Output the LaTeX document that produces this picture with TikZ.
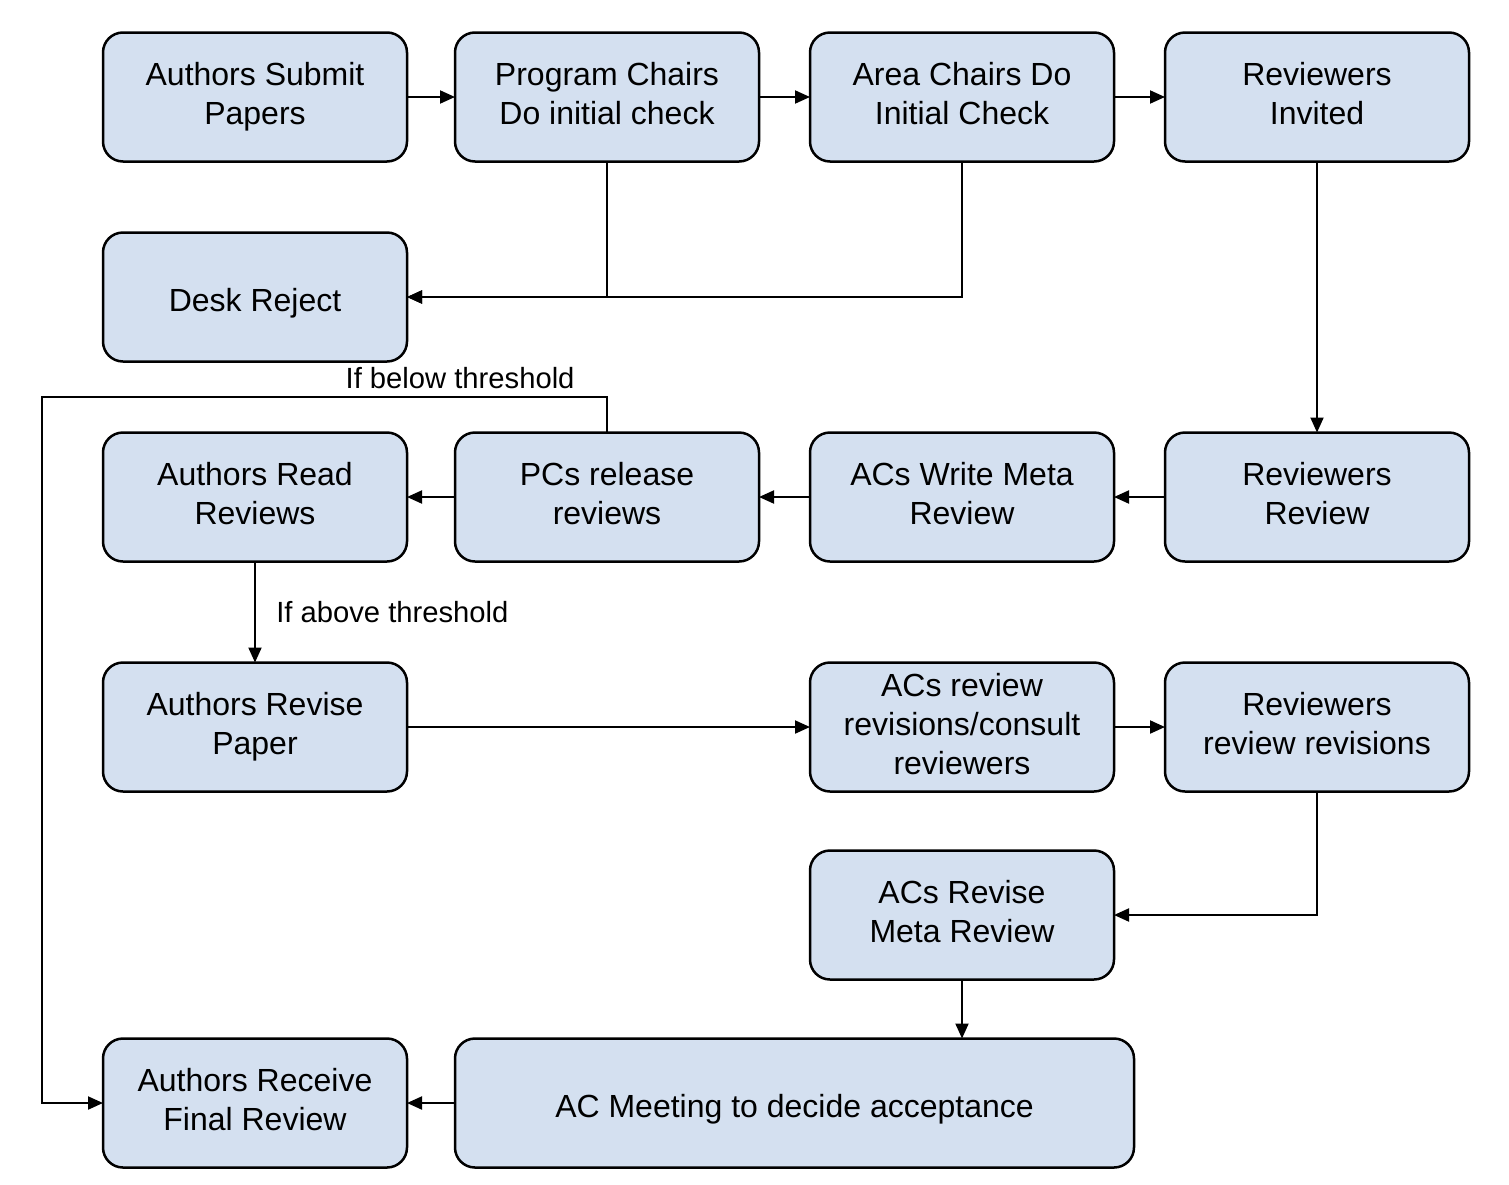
\documentclass[tikz,border=0pt]{standalone}
\usepackage{fontspec}
\setmainfont{Liberation Sans}
\usepackage{xcolor}
\usepackage{tikz}
\usetikzlibrary{positioning}
\usetikzlibrary{arrows.meta}
\definecolor{boxblue}{RGB}{212,224,240}

\begin{document}
\begin{tikzpicture}[%
	base/.style={draw=black, line width=2.5pt, fill=boxblue, align=center, outer sep=0pt, minimum
		width=304pt, minimum height=129pt, inner sep=5pt, font=\fontsize{32}{39}\selectfont,
		execute at begin node={\rule{0pt}{35pt}}, execute at end node={\rule[-6.7pt]{0pt}{6.7pt}}},
	rect/.style={base, rounded corners=20pt},
	wide/.style={rect, minimum width=679pt},
	cond/.style={font=\fontsize{29.2}{35}\selectfont},
	link/.style={line width=2pt},
	arrow/.style={link, arrows={-{Triangle[length=15pt, width=13pt]}}}%
	]
	\path[use as bounding box] (0,0) rectangle (1509pt,-1184pt);
	%
	% Nodes
	%
	\node[rect] (SUBMIT) at (255pt, -97pt) {Authors Submit\\ Papers};
	\node[rect, right=48pt of SUBMIT] (PCCHECK) {Program Chairs\\ Do initial check};
	\node[rect, right=51pt of PCCHECK] (ACCHECK) {Area Chairs Do\\ Initial Check};
	\node[rect, right=51pt of ACCHECK] (INVITED) {Reviewers\\ Invited};
	\node[rect, below=71pt of SUBMIT] (DESK) {Desk Reject};
	\node[rect, below=71pt of DESK] (READ) {Authors Read\\ Reviews};
	\node[rect, right=48pt of READ] (RELEASE) {PCs release\\ reviews};
	\node[rect, right=51pt of RELEASE] (META) {ACs Write Meta\\ Review};
	\node[rect, right=51pt of META] (REVIEW) {Reviewers\\ Review};
	\node[rect, below=101pt of READ] (REVISE) {Authors Revise\\ Paper};
	\node[rect, below=101pt of META] (CONSULT) {ACs review\\ revisions/consult\\ reviewers};
	\node[rect, below=101pt of REVIEW] (REREVIEW) {Reviewers\\ review revisions};
	\node[rect, below=59pt of CONSULT] (REMETA) {ACs Revise\\ Meta Review};
	\node[rect, below=247pt of REVISE] (FINAL) {Authors Receive\\ Final Review};
	\node[wide, right=48pt of FINAL] (MEETING) {AC Meeting to decide acceptance};
	\coordinate (LOOP) at (42pt, -397pt);
	%
	% Connectors
	%
	\path[arrow] (SUBMIT) edge (PCCHECK);
	\path[arrow] (PCCHECK) edge (ACCHECK);
	\path[arrow] (ACCHECK) edge (INVITED);
	\draw[arrow] (PCCHECK.south) |- (DESK.east);
	\draw[arrow] (ACCHECK.south) |- (DESK.east);
	\path[arrow] (INVITED) edge (REVIEW);
	\path[arrow] (REVIEW) edge (META);
	\path[arrow] (META) edge (RELEASE);
	\path[arrow] (RELEASE) edge (READ);
	\draw[arrow] (RELEASE.north) |- node[cond, above=4pt, pos=0.63] {If below threshold} (LOOP) |- (FINAL.west);
	\path[arrow] (READ) edge node[cond, midway, right=17pt] {If above threshold} (REVISE);
	\path[arrow] (REVISE) edge (CONSULT);
	\path[arrow] (CONSULT) edge (REREVIEW);
	\draw[arrow] (REREVIEW.south) |- (REMETA.east);
	\draw[arrow] (REMETA.south) -- (REMETA.south |- MEETING.north);
	\path[arrow] (MEETING) edge (FINAL);
\end{tikzpicture}
\end{document}
